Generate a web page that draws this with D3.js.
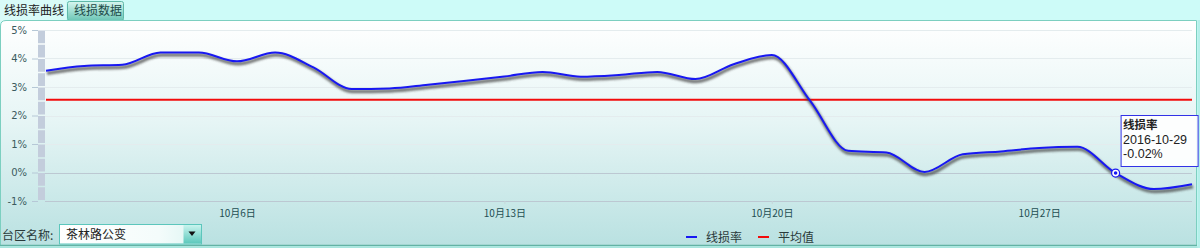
<!DOCTYPE html>
<html>
<head>
<meta charset="utf-8">
<script src="https://cdnjs.cloudflare.com/ajax/libs/d3/7.8.5/d3.min.js"></script>
<style>
  html, body { margin: 0; padding: 0; background: #cdfbf8; }
  svg { display: block; font-family: "Noto Sans CJK SC", "DejaVu Sans", sans-serif; }
</style>
</head>
<body>
<svg id="chart" width="1200" height="248"></svg>
<script>
var width = 1200,
  height = 248;

// data: line loss rate (%) for each day of Oct 2016
var days = ['2016-10-01', '2016-10-02', '2016-10-03', '2016-10-04', '2016-10-05', '2016-10-06',
  '2016-10-07', '2016-10-08', '2016-10-09', '2016-10-10', '2016-10-11', '2016-10-12', '2016-10-13',
  '2016-10-14', '2016-10-15', '2016-10-16', '2016-10-17', '2016-10-18', '2016-10-19', '2016-10-20',
  '2016-10-21', '2016-10-22', '2016-10-23', '2016-10-24', '2016-10-25', '2016-10-26', '2016-10-27',
  '2016-10-28', '2016-10-29', '2016-10-30', '2016-10-31'];
var lossRate = [3.57, 3.74, 3.78, 4.21, 4.21, 3.90, 4.21, 3.69, 2.93, 2.95, 3.08, 3.22, 3.37,
  3.53, 3.36, 3.42, 3.53, 3.28, 3.80, 4.12, 2.52, 0.76, 0.70, 0.02, 0.64, 0.74, 0.86,
  0.90, -0.02, -0.58, -0.41];
var average = 2.55;
var yTicks = [-1, 0, 1, 2, 3, 4, 5];
var xTickDays = ['2016-10-06', '2016-10-13', '2016-10-20', '2016-10-27'];
var tabLabels = ['线损率曲线', '线损数据'];
var legendLabels = ['线损率', '平均值'];
var stationLabel = '台区名称:';
var stationName = '茶林路公变';
var tipIndex = 28;

var parseTime = d3.timeParse('%Y-%m-%d');
var formatTick = function (d) { return (d.getMonth() + 1) + '月' + d.getDate() + '日'; };

var data = days.map(function (d, i) {
  return { date: parseTime(d), value: lossRate[i] };
});

var xScale = d3.scaleTime()
  .domain([data[0].date, data[data.length - 1].date])
  .range([46, 1192]);

var yScale = d3.scaleLinear()
  .domain([-1, 5])
  .range([201, 30]);

var svg = d3.select('#chart');
var defs = svg.append('defs');

var bg = defs.append('linearGradient').attr('id', 'panelGrad')
  .attr('x1', 0).attr('y1', 0).attr('x2', 0).attr('y2', 1);
bg.append('stop').attr('offset', '0%').attr('stop-color', '#ffffff');
bg.append('stop').attr('offset', '45%').attr('stop-color', '#e6f5f5');
bg.append('stop').attr('offset', '100%').attr('stop-color', '#b9e1e1');

var tabGrad = defs.append('linearGradient').attr('id', 'tabGrad')
  .attr('x1', 0).attr('y1', 0).attr('x2', 0).attr('y2', 1);
tabGrad.append('stop').attr('offset', '0%').attr('stop-color', '#d6f6ef');
tabGrad.append('stop').attr('offset', '100%').attr('stop-color', '#6cc6b6');

var btnGrad = defs.append('linearGradient').attr('id', 'btnGrad')
  .attr('x1', 0).attr('y1', 0).attr('x2', 0).attr('y2', 1);
btnGrad.append('stop').attr('offset', '0%').attr('stop-color', '#c8f4ee');
btnGrad.append('stop').attr('offset', '100%').attr('stop-color', '#5cc8bc');

var inputGrad = defs.append('linearGradient').attr('id', 'inputGrad')
  .attr('x1', 0).attr('y1', 0).attr('x2', 1).attr('y2', 0);
inputGrad.append('stop').attr('offset', '0%').attr('stop-color', '#ffffff');
inputGrad.append('stop').attr('offset', '70%').attr('stop-color', '#f4fcfb');
inputGrad.append('stop').attr('offset', '100%').attr('stop-color', '#dcf4f2');

defs.append('filter').attr('id', 'blur')
  .append('feGaussianBlur').attr('stdDeviation', 0.9);

//Tabs
svg.append('rect')
  .attr('x', 0).attr('y', 0).attr('width', 66).attr('height', 22)
  .attr('fill', '#d9fbf8');
svg.append('rect')
  .attr('x', 67.5).attr('y', 1.5).attr('width', 56).attr('height', 19)
  .attr('rx', 2)
  .attr('fill', 'url(#tabGrad)')
  .attr('stroke', '#5fb8a8');
svg.selectAll('.tab')
  .data(tabLabels)
  .enter()
  .append('text')
  .attr('class', 'tab')
  .attr('x', function (d, i) { return i === 0 ? 4 : 74; })
  .attr('y', 15)
  .attr('font-size', 12)
  .attr('fill', function (d, i) { return i === 0 ? '#222' : '#1d4a48'; })
  .text(function (d) { return d; });

//Panel
svg.append('path')
  .attr('d', 'M0.5,246 L0.5,26 Q0.5,20.5 6,20.5 L1196.5,20.5 L1196.5,246')
  .attr('fill', 'url(#panelGrad)')
  .attr('stroke', '#7ccfc0');
svg.append('line')
  .attr('x1', 0).attr('x2', 1197).attr('y1', 245.5).attr('y2', 245.5)
  .attr('stroke', '#63b3a4').attr('stroke-width', 1.5);
svg.append('rect')
  .attr('x', 0).attr('y', 246.5).attr('width', 1200).attr('height', 2)
  .attr('fill', '#a8e6de');
svg.append('rect')
  .attr('x', 1197.5).attr('y', 20).attr('width', 3).attr('height', 228)
  .attr('fill', '#b4f0ea');

//Grid lines
svg.selectAll('.grid')
  .data(yTicks)
  .enter()
  .append('line')
  .attr('class', 'grid')
  .attr('x1', 45).attr('x2', 1192)
  .attr('y1', function (d) { return Math.round(yScale(d)) + 0.5; })
  .attr('y2', function (d) { return Math.round(yScale(d)) + 0.5; })
  .attr('stroke', function (d) { return d <= 0 ? '#bcc8d2' : '#e4ecee'; })
  .attr('stroke-width', 1);

//Segmented y axis bar
var halfSteps = d3.range(-1, 5, 0.5);
svg.selectAll('.seg')
  .data(halfSteps)
  .enter()
  .append('rect')
  .attr('class', 'seg')
  .attr('x', 38)
  .attr('width', 7)
  .attr('y', function (d) { return yScale(d + 0.5) + 0.5; })
  .attr('height', function (d) { return yScale(d) - yScale(d + 0.5) - 1.5; })
  .attr('fill', '#c3cddc');

//Y axis labels and ticks
var yAxis = d3.axisLeft(yScale)
  .tickValues(yTicks)
  .tickSize(6)
  .tickPadding(5)
  .tickFormat(function (d) { return d + '%'; });
var gy = svg.append('g')
  .attr('transform', 'translate(38,0)')
  .call(yAxis);
gy.select('.domain').remove();
gy.selectAll('line').attr('stroke', '#b6c8d6');
gy.selectAll('text')
  .attr('font-family', 'Verdana, "DejaVu Sans", sans-serif')
  .attr('font-size', 10)
  .attr('fill', '#3b5b5e');

//X axis
var xAxis = d3.axisBottom(xScale)
  .tickValues(xTickDays.map(parseTime))
  .tickSize(3)
  .tickPadding(6)
  .tickFormat(formatTick);
var gx = svg.append('g')
  .attr('transform', 'translate(0,201)')
  .call(xAxis);
gx.select('.domain').remove();
gx.selectAll('line').attr('stroke', '#c6d6da');
gx.selectAll('text')
  .attr('font-family', '"Noto Sans CJK SC", sans-serif')
  .attr('font-size', 10)
  .attr('fill', '#234e52');

//Average line with shadow
var avgLine = d3.line()
  .x(function (d) { return xScale(d.date); })
  .y(function () { return yScale(average); });
svg.append('path')
  .attr('d', avgLine(data))
  .attr('transform', 'translate(1,2.5)')
  .attr('fill', 'none')
  .attr('stroke', '#555')
  .attr('stroke-opacity', 0.7)
  .attr('stroke-width', 3)
  .attr('filter', 'url(#blur)');
svg.append('path')
  .attr('d', avgLine(data))
  .attr('fill', 'none')
  .attr('stroke', '#f20c0c')
  .attr('stroke-width', 2);

//Loss rate line with shadow
var line = d3.line()
  .x(function (d) { return xScale(d.date); })
  .y(function (d) { return yScale(d.value); })
  .curve(d3.curveMonotoneX);
svg.append('path')
  .attr('d', line(data))
  .attr('transform', 'translate(1,2.5)')
  .attr('fill', 'none')
  .attr('stroke', '#444')
  .attr('stroke-opacity', 0.7)
  .attr('stroke-width', 3.5)
  .attr('filter', 'url(#blur)');
svg.append('path')
  .attr('d', line(data))
  .attr('fill', 'none')
  .attr('stroke', '#1818f2')
  .attr('stroke-width', 2);

//Hover marker
var tip = data[tipIndex];
svg.append('circle')
  .attr('cx', xScale(tip.date)).attr('cy', yScale(tip.value))
  .attr('r', 4)
  .attr('fill', '#fff')
  .attr('stroke', '#1818f2')
  .attr('stroke-width', 1.2);
svg.append('circle')
  .attr('cx', xScale(tip.date)).attr('cy', yScale(tip.value))
  .attr('r', 1.8)
  .attr('fill', '#1818f2');

//Tooltip
var tipG = svg.append('g')
  .attr('transform', 'translate(' + (xScale(tip.date) + 5.5) + ',115.5)');
tipG.append('rect')
  .attr('width', 77).attr('height', 51)
  .attr('fill', '#ffffff').attr('fill-opacity', 0.9)
  .attr('stroke', '#3232e6').attr('stroke-width', 1);
var tipLines = [legendLabels[0], d3.timeFormat('%Y-%m-%d')(tip.date), tip.value.toFixed(2) + '%'];
tipG.selectAll('text')
  .data(tipLines)
  .enter()
  .append('text')
  .attr('x', 2)
  .attr('y', function (d, i) { return [13.5, 28.5, 42.5][i]; })
  .attr('font-family', function (d, i) {
    return i === 0 ? '"Noto Sans CJK SC", sans-serif' : '"Liberation Sans", Arial, sans-serif';
  })
  .attr('font-size', function (d, i) { return i === 0 ? 11.5 : 12.5; })
  .attr('font-weight', function (d, i) { return i === 0 ? 'bold' : 'normal'; })
  .attr('fill', '#222')
  .text(function (d) { return d; });

//Legend
var legendColors = ['#1818f2', '#f20c0c'];
var legend = svg.selectAll('.legend')
  .data(legendLabels)
  .enter()
  .append('g')
  .attr('class', 'legend')
  .attr('transform', function (d, i) { return 'translate(' + (686 + i * 72) + ',237)'; });
legend.append('line')
  .attr('x1', 0).attr('x2', 11).attr('y1', 0).attr('y2', 0)
  .attr('stroke', function (d, i) { return legendColors[i]; })
  .attr('stroke-width', 2);
legend.append('text')
  .attr('x', 20).attr('y', 4.5)
  .attr('font-size', 12)
  .attr('fill', '#2a3a3a')
  .text(function (d) { return d; });

//Station select
svg.append('text')
  .attr('x', 2).attr('y', 240)
  .attr('font-size', 12)
  .attr('fill', '#2a3a3a')
  .text(stationLabel);
svg.append('rect')
  .attr('x', 59.5).attr('y', 224.5).attr('width', 142).attr('height', 19.5)
  .attr('fill', 'url(#inputGrad)')
  .attr('stroke', '#5cc6bc');
svg.append('rect')
  .attr('x', 183.5).attr('y', 225).attr('width', 17.5).attr('height', 18.5)
  .attr('fill', 'url(#btnGrad)');
svg.append('path')
  .attr('d', 'M188.5,231.5 L195.5,231.5 L192,236 Z')
  .attr('fill', '#111');
svg.append('text')
  .attr('x', 66).attr('y', 239)
  .attr('font-size', 12)
  .attr('fill', '#222')
  .text(stationName);
</script>
</body>
</html>
